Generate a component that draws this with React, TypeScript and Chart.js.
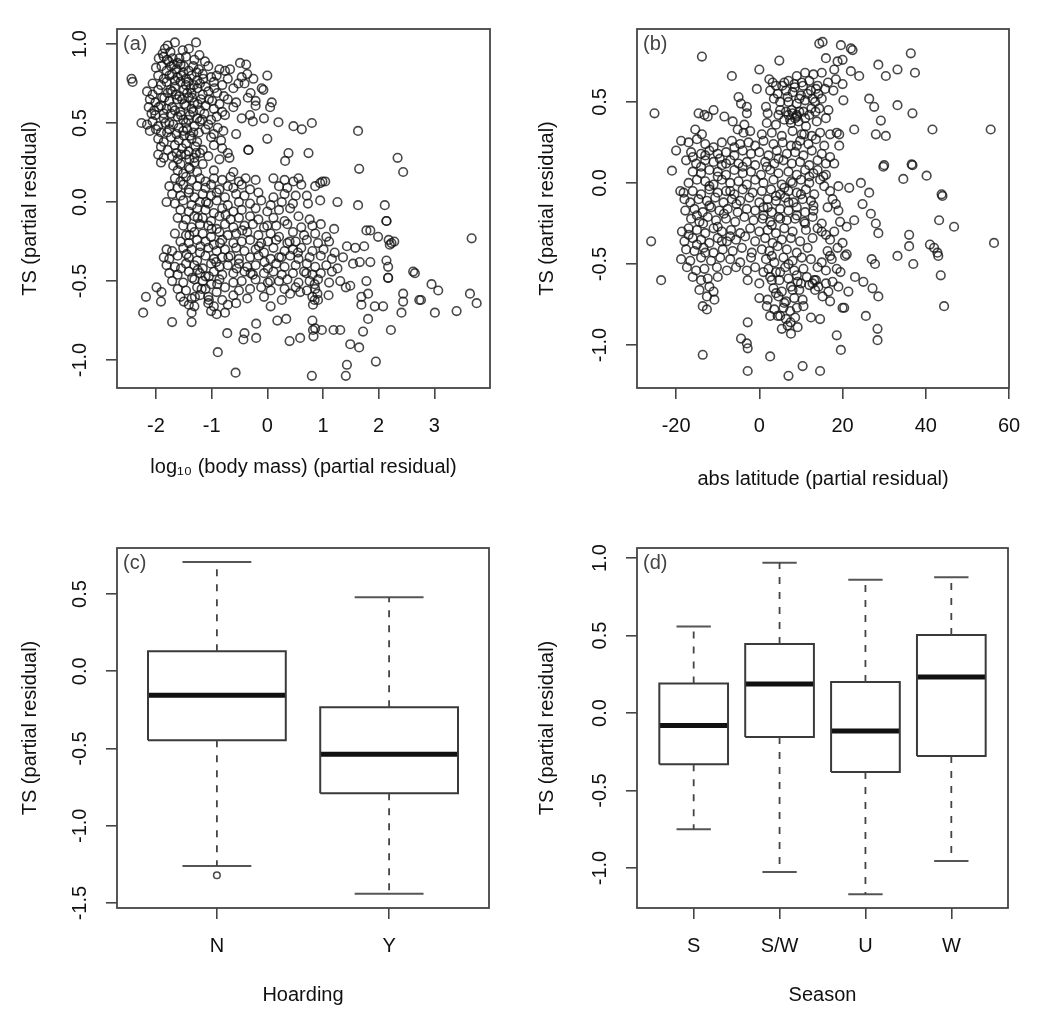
import React, { useEffect, useRef } from "react";
import { Chart, registerables } from "chart.js";

Chart.register(...registerables);

const FONT = "'Liberation Sans', Arial, Helvetica, sans-serif";
const TEXT = "#111111";
const FRAME = "#454545";

// ---------- Panel (a): log10 body mass vs TS ----------
const massTicks = [-2, -1, 0, 1, 2, 3];
const tsTicksA = [-1, -0.5, 0, 0.5, 1];
const massPoints: [number, number][] = [
  [-1.84,0.97],[-1.79,0.99],[-1.74,0.95],[-1.66,1.01],[-1.28,1.01],[-1.52,0.96],[-1.41,0.97],
  [-1.95,0.91],[-1.86,0.92],[-1.77,0.89],[-1.7,0.91],[-1.61,0.88],[-1.46,0.92],[-1.31,0.9],[-1.22,0.93],[-1.12,0.89],[-0.49,0.88],
  [-2.0,0.85],[-1.9,0.86],[-1.81,0.83],[-1.73,0.86],[-1.63,0.84],[-1.56,0.87],[-1.41,0.83],[-1.33,0.86],[-1.23,0.84],[-1.06,0.86],[-0.86,0.84],[-0.76,0.83],[-0.67,0.84],[-0.38,0.87],
  [-1.96,0.8],[-1.86,0.78],[-1.71,0.81],[-1.61,0.79],[-1.51,0.82],[-1.46,0.78],[-1.36,0.8],[-1.26,0.77],[-1.16,0.81],[-1.01,0.79],[-0.91,0.8],[-0.71,0.78],[-0.46,0.79],[-0.36,0.81],[-0.25,0.78],[0.0,0.8],
  [-2.06,0.75],[-1.91,0.74],[-1.81,0.76],[-1.66,0.73],[-1.56,0.76],[-1.46,0.74],[-1.38,0.72],[-1.21,0.75],[-1.11,0.73],[-0.96,0.76],[-0.81,0.74],[-0.61,0.72],[-0.41,0.75],[-0.52,0.75],
  [-2.16,0.7],[-2.06,0.68],[-1.96,0.71],[-1.79,0.69],[-1.71,0.7],[-1.58,0.67],[-1.5,0.71],[-1.36,0.69],[-1.26,0.72],[-1.16,0.68],[-1.06,0.7],[-0.9,0.69],[-0.78,0.67],[-0.3,0.69],[-0.1,0.72],[-0.07,0.71],
  [-2.11,0.65],[-2.01,0.63],[-1.89,0.66],[-1.76,0.64],[-1.62,0.65],[-1.49,0.62],[-1.41,0.66],[-1.31,0.63],[-1.19,0.65],[-0.99,0.64],[-0.86,0.62],[-0.71,0.65],[-0.56,0.63],[-0.35,0.66],[-0.21,0.64],
  [-2.13,0.6],[-2.03,0.58],[-1.91,0.61],[-1.81,0.59],[-1.71,0.6],[-1.56,0.57],[-1.46,0.61],[-1.36,0.59],[-1.21,0.58],[-1.11,0.61],[-0.96,0.59],[-0.81,0.57],[-0.61,0.6],[-0.21,0.61],[0.05,0.6],[0.08,0.63],
  [-2.01,0.55],[-1.86,0.53],[-1.73,0.56],[-1.61,0.54],[-1.51,0.52],[-1.39,0.55],[-1.26,0.53],[-1.13,0.56],[-1.01,0.52],[-0.91,0.54],[-0.76,0.55],[-0.46,0.53],[-0.31,0.55],[-0.06,0.53],
  [-2.26,0.5],[-2.16,0.49],[-2.06,0.51],[-1.96,0.48],[-1.83,0.5],[-1.69,0.49],[-1.59,0.47],[-1.46,0.5],[-1.31,0.48],[-1.21,0.51],[-1.06,0.49],[-0.89,0.47],[-0.26,0.51],[0.2,0.505],[0.47,0.48],[0.62,0.46],[0.8,0.5],
  [-2.11,0.45],[-1.91,0.44],[-1.76,0.46],[-1.63,0.43],[-1.51,0.45],[-1.39,0.42],[-1.23,0.44],[-1.11,0.46],[-0.96,0.43],[-0.79,0.45],[-0.56,0.43],
  [-1.96,0.4],[-1.86,0.38],[-1.73,0.41],[-1.59,0.39],[-1.46,0.37],[-1.36,0.4],[-1.26,0.38],[-1.01,0.41],[-0.83,0.39],[0.0,0.4],
  [-1.91,0.35],[-1.79,0.33],[-1.66,0.36],[-1.53,0.34],[-1.41,0.32],[-1.29,0.35],[-1.16,0.33],[-0.96,0.36],[-0.81,0.34],[-0.71,0.31],[-0.34,0.33],[0.38,0.31],[0.74,0.31],
  [-1.96,0.3],[-1.86,0.28],[-1.71,0.29],[-1.61,0.27],[-1.46,0.3],[-1.31,0.28],[-1.21,0.31],[-1.06,0.29],[-0.86,0.27],[-0.68,0.28],[0.32,0.26],
  [-1.91,0.25],[-1.69,0.23],[-1.56,0.24],[-1.41,0.22],[-1.31,0.25],[-1.16,0.24],
  [-1.61,0.2],[-1.51,0.18],[-1.39,0.21],[-1.26,0.19],[-0.96,0.2],[-0.61,0.19],
  [-1.88,0.94],[-1.8,0.9],[-1.68,0.87],[-1.58,0.91],[-1.5,0.86],[-1.76,0.8],[-1.66,0.77],[-1.55,0.8],[-1.42,0.76],[-1.32,0.74],
  [-1.74,0.71],[-1.64,0.68],[-1.53,0.65],[-1.44,0.69],[-1.85,0.66],[-1.95,0.6],[-1.86,0.56],[-1.76,0.5],[-1.66,0.58],[-1.55,0.55],
  [-1.42,0.52],[-1.33,0.57],[-1.25,0.62],[-1.17,0.52],[-1.5,0.42],[-1.44,0.46],[-1.33,0.44],[-1.28,0.31],[-1.4,0.27],[-1.55,0.3],
  [-1.63,0.31],[-1.35,0.66],[-1.05,0.65],[-1.15,0.78],[-0.95,0.72],[-1.27,0.82],[-2.08,0.56],[-2.0,0.46],[-1.8,0.44],
  [-1.66,0.15],[-1.56,0.13],[-1.46,0.16],[-1.36,0.14],[-1.21,0.15],[-1.11,0.13],[-0.96,0.15],[-0.81,0.14],[-0.66,0.16],[-0.51,0.13],[-0.39,0.15],[-0.21,0.14],[0.11,0.15],[0.31,0.14],[0.56,0.15],[0.99,0.13],[1.04,0.13],[0.95,0.12],[0.47,0.13],
  [-1.76,0.1],[-1.61,0.09],[-1.51,0.11],[-1.41,0.08],[-1.26,0.1],[-1.11,0.09],[-1.01,0.11],[-0.86,0.08],[-0.71,0.1],[-0.61,0.09],[-0.46,0.11],[-0.31,0.08],[0.21,0.1],[0.36,0.09],[0.61,0.11],[0.86,0.1],
  [-1.71,0.05],[-1.56,0.04],[-1.41,0.06],[-1.31,0.03],[-1.16,0.05],[-1.01,0.04],[-0.91,0.06],[-0.76,0.03],[-0.56,0.05],[-0.41,0.04],[-0.16,0.06],[0.11,0.03],[0.31,0.05],[0.51,0.04],[0.71,0.04],[0.73,-0.01],
  [-1.81,0.0],[-1.66,-0.01],[-1.51,0.01],[-1.36,-0.02],[-1.21,0.0],[-1.06,-0.01],[-0.91,0.01],[-0.71,-0.02],[-0.51,0.0],[-0.31,-0.01],[-0.11,0.01],[0.06,-0.02],[0.26,0.0],[0.46,-0.01],[0.95,0.01],[1.26,0.0],[1.63,-0.02],[2.11,-0.02],
  [-1.56,-0.05],[-1.41,-0.06],[-1.26,-0.04],[-1.11,-0.05],[-0.96,-0.07],[-0.81,-0.04],[-0.61,-0.06],[-0.46,-0.05],[-0.21,-0.04],[0.0,-0.06],[0.21,-0.05],[0.41,-0.04],
  [-1.61,-0.1],[-1.46,-0.11],[-1.31,-0.09],[-1.16,-0.1],[-1.01,-0.12],[-0.86,-0.09],[-0.66,-0.11],[-0.51,-0.1],[-0.31,-0.09],[-0.16,-0.11],[0.11,-0.1],[0.31,-0.12],[0.56,-0.09],[0.76,-0.11],[2.14,-0.12],
  [-1.51,-0.15],[-1.36,-0.16],[-1.21,-0.14],[-1.06,-0.15],[-0.91,-0.17],[-0.76,-0.14],[-0.61,-0.16],[-0.41,-0.15],[-0.26,-0.14],[-0.06,-0.16],[0.16,-0.15],[0.36,-0.14],[0.61,-0.16],[0.81,-0.15],[0.96,-0.14],[1.2,-0.17],[1.78,-0.18],
  [-1.66,-0.2],[-1.46,-0.21],[-1.31,-0.19],[-1.16,-0.2],[-1.01,-0.22],[-0.86,-0.19],[-0.71,-0.21],[-0.56,-0.2],[-0.36,-0.19],[-0.16,-0.21],[0.06,-0.2],[0.21,-0.22],[0.46,-0.19],[0.66,-0.21],[0.86,-0.2],[1.06,-0.22],[1.99,-0.22],[2.18,-0.24],
  [-1.56,-0.25],[-1.41,-0.26],[-1.26,-0.24],[-1.11,-0.25],[-0.96,-0.27],[-0.81,-0.24],[-0.61,-0.26],[-0.46,-0.25],[-0.31,-0.24],[-0.11,-0.26],[0.01,-0.25],[0.16,-0.24],[0.36,-0.26],[0.51,-0.25],[0.71,-0.24],[0.91,-0.26],[1.11,-0.25],[2.23,-0.26],[2.28,-0.25],
  [-1.81,-0.3],[-1.71,-0.31],[-1.51,-0.29],[-1.36,-0.3],[-1.21,-0.32],[-1.06,-0.29],[-0.91,-0.31],[-0.76,-0.3],[-0.56,-0.29],[-0.41,-0.31],[-0.21,-0.3],[-0.06,-0.32],[0.11,-0.29],[0.31,-0.31],[0.46,-0.3],[0.61,-0.29],[0.81,-0.31],[1.01,-0.3],[1.21,-0.32],[1.43,-0.28],[1.58,-0.29],[1.74,-0.28],
  [-1.86,-0.35],[-1.76,-0.36],[-1.61,-0.34],[-1.41,-0.35],[-1.26,-0.37],[-1.11,-0.34],[-0.96,-0.36],[-0.81,-0.35],[-0.66,-0.34],[-0.51,-0.36],[-0.31,-0.35],[-0.16,-0.34],[0.06,-0.36],[0.21,-0.35],[0.41,-0.34],[0.56,-0.36],[0.76,-0.35],[0.96,-0.34],[1.16,-0.36],[1.36,-0.35],[2.14,-0.37],
  [-1.81,-0.4],[-1.66,-0.41],[-1.46,-0.39],[-1.31,-0.4],[-1.16,-0.42],[-1.01,-0.39],[-0.86,-0.41],[-0.71,-0.4],[-0.51,-0.39],[-0.36,-0.41],[-0.21,-0.4],[0.01,-0.42],[0.16,-0.39],[0.31,-0.41],[0.51,-0.4],[0.71,-0.39],[0.86,-0.41],[1.06,-0.4],[1.26,-0.42],[1.54,-0.39],[1.66,-0.38],[1.85,-0.38],[2.17,-0.41],
  [-1.76,-0.45],[-1.61,-0.46],[-1.41,-0.44],[-1.21,-0.45],[-1.11,-0.47],[-0.96,-0.44],[-0.81,-0.46],[-0.61,-0.45],[-0.41,-0.44],[-0.26,-0.46],[-0.06,-0.45],[0.11,-0.44],[0.26,-0.46],[0.46,-0.45],[0.66,-0.44],[0.81,-0.46],[0.96,-0.45],[1.16,-0.44],[2.62,-0.44],[2.65,-0.45],
  [-1.71,-0.5],[-1.51,-0.51],[-1.31,-0.49],[-1.16,-0.5],[-1.01,-0.52],[-0.86,-0.49],[-0.61,-0.51],[-0.46,-0.5],[-0.21,-0.49],[0.01,-0.51],[0.21,-0.5],[0.36,-0.49],[0.56,-0.51],[0.76,-0.5],[0.91,-0.49],[1.11,-0.51],[1.31,-0.5],[1.78,-0.5],[2.17,-0.48],[2.95,-0.52],
  [-1.61,-0.55],[-1.46,-0.56],[-1.26,-0.54],[-1.11,-0.55],[-0.91,-0.57],[-0.76,-0.54],[-0.51,-0.56],[-0.31,-0.55],[-0.11,-0.54],[0.06,-0.56],[0.31,-0.55],[0.51,-0.54],[0.71,-0.56],[0.86,-0.55],[1.41,-0.54],[1.49,-0.53],[3.07,-0.56],
  [-1.56,-0.6],[-1.36,-0.61],[-1.21,-0.59],[-1.06,-0.6],[-0.81,-0.62],[-0.61,-0.59],[-0.36,-0.61],[-0.06,-0.6],[0.26,-0.62],[0.41,-0.58],[0.59,-0.57],[0.81,-0.6],[0.91,-0.62],[1.1,-0.59],[1.69,-0.6],[1.81,-0.58],[2.44,-0.58],[3.64,-0.58],
  [-1.41,-0.65],[-1.31,-0.66],[-1.06,-0.64],[-0.96,-0.66],[-0.71,-0.65],[-0.56,-0.64],[0.06,-0.66],[0.82,-0.65],[1.69,-0.65],[1.93,-0.66],[2.08,-0.66],[2.44,-0.63],[2.73,-0.62],[2.76,-0.62],[3.76,-0.64],
  [-1.36,-0.7],[-1.01,-0.69],[-0.91,-0.71],[-0.76,-0.7],
  [-1.35,-0.48],[-1.25,-0.43],[-1.05,-0.47],[-0.92,-0.38],[-1.2,-0.28],[-1.0,-0.17],[-0.85,-0.26],[-0.75,-0.08],[-1.18,-0.55],[-1.05,-0.62],
  [-0.9,-0.52],[-1.4,-0.21],[-1.45,-0.33],[-1.55,-0.42],[-1.25,-0.1],[-1.1,0.0],[-0.7,-0.35],[-0.55,-0.42],[-0.3,-0.45],[-0.05,-0.38],
  [0.05,-0.5],[0.25,-0.35],[0.4,-0.25],[0.55,-0.32],[0.7,-0.45],[0.85,-0.52],[-0.15,-0.28],[0.0,-0.15],[-0.45,-0.18],[-1.3,-0.6],
  [-1.5,-0.63],[0.9,-0.58],[0.85,-0.62],
  [-2.44,0.78],[-2.42,0.76],[1.63,0.45],[-0.34,0.33],[1.65,0.21],[2.34,0.28],[2.44,0.19],[3.67,-0.23],[3.4,-0.69],[3.01,-0.7],[2.41,-0.7],
  [2.22,-0.81],[1.95,-1.01],[1.81,-0.74],[1.72,-0.82],[1.65,-0.92],[1.49,-0.9],[1.43,-1.03],[1.41,-1.1],[0.8,-1.1],[-0.57,-1.08],[-0.89,-0.95],
  [-2.23,-0.7],[-2.18,-0.6],[-1.99,-0.54],[-1.9,-0.57],[-1.91,-0.63],[-1.71,-0.76],[-1.36,-0.76],[-0.72,-0.83],[-0.41,-0.83],[-0.43,-0.87],
  [-0.2,-0.77],[-0.2,-0.86],[0.18,-0.75],[0.34,-0.74],[0.4,-0.88],[0.59,-0.86],[0.81,-0.75],[0.82,-0.81],[0.83,-0.85],[0.86,-0.8],[0.98,-0.81],[1.19,-0.81],[1.31,-0.81],
  [2.14,-0.12],[2.17,-0.48],[1.85,-0.18],[2.2,-0.27]
];

// ---------- Panel (b): abs latitude vs TS ----------
const latTicks = [-20, 0, 20, 40, 60];
const tsTicksB = [-1, -0.5, 0, 0.5];
const latPoints: [number, number][] = [
  [14.4,0.86],[15.2,0.87],[19.6,0.85],[22,0.83],[22.4,0.82],[36.4,0.8],
  [-13.8,0.78],[4.8,0.755],[16,0.77],[18.8,0.75],[20,0.76],
  [0,0.7],[-6.6,0.66],[28.6,0.73],[33.2,0.7],[37.4,0.68],[30.4,0.66],[22,0.69],[24,0.66],[11,0.68],[13,0.67],[15,0.68],[18,0.7],[9,0.66],
  [2.4,0.64],[3.2,0.62],[7.0,0.63],[8.4,0.61],[10.2,0.62],[12,0.63],[14,0.6],[16.5,0.62],[18.4,0.64],[20,0.61],[5.5,0.6],
  [-0.6,0.58],[2.6,0.57],[4.4,0.55],[6.4,0.57],[8,0.56],[10,0.54],[12.4,0.57],[14.2,0.55],[15.8,0.58],[17.8,0.57],[20.2,0.51],[-5,0.53],
  [-4.4,0.49],[-3,0.47],[1.6,0.47],[5,0.5],[7,0.5],[9,0.49],[11,0.51],[13.4,0.5],[15,0.52],[26.4,0.52],[33.2,0.48],
  [-25.2,0.43],[-14.6,0.43],[-13.2,0.42],[-12.4,0.41],[-11,0.45],[-8.4,0.41],[-3,0.43],[2,0.43],[4.6,0.42],[6.4,0.44],[7.8,0.45],[9,0.42],[10.6,0.44],[12,0.42],[14.4,0.46],[27.6,0.47],[36.8,0.43],
  [7,0.42],[8,0.43],[8.6,0.4],[9.6,0.44],[7.4,0.39],[9,0.41],
  [5,0.45],[6,0.62],[8.5,0.59],[10.5,0.6],[11.6,0.55],[12.8,0.52],[13.6,0.58],[6.8,0.53],[9.6,0.52],[11,0.4],[12.5,0.46],[13.5,0.44],[4,0.6],[3.5,0.52],
  [-6.4,0.38],[-3.6,0.36],[1.8,0.37],[4,0.36],[6,0.39],[7.6,0.37],[9.4,0.38],[11.2,0.35],[13.8,0.38],[16,0.4],[29.2,0.385],[22.8,0.33],[19.2,0.3],
  [-15.4,0.33],[-13.8,0.3],[-5.2,0.33],[-3.8,0.31],[-2.2,0.32],[0.6,0.3],[3,0.31],[5.4,0.29],[8,0.32],[10.2,0.3],[12.6,0.29],[14.6,0.31],[18.6,0.31],[41.6,0.33],[55.6,0.33],[28,0.3],[30.4,0.29],
  [-18.8,0.26],[-17,0.25],[-15,0.27],[-13,0.24],[-9,0.25],[-6.6,0.26],[-4.6,0.24],[-2.6,0.25],[-1,0.23],[1,0.26],[3.4,0.24],[5.6,0.25],[7.6,0.23],[9.8,0.26],[11.8,0.24],[13.6,0.27],[15.6,0.23],[19.2,0.23],
  [-20,0.2],[-16.4,0.19],[-14,0.18],[-12,0.2],[-10,0.18],[-8,0.19],[-6,0.17],[-4,0.2],[-2,0.18],[0,0.19],[2.2,0.17],[4.2,0.2],[6.6,0.18],[8.6,0.19],[10.6,0.17],[12.6,0.2],[15,0.18],[17,0.16],
  [-17.6,0.14],[-15.2,0.12],[-13,0.14],[-11,0.13],[-9,0.11],[-7,0.14],[-5,0.12],[-3,0.13],[-1,0.11],[1.4,0.13],[3.6,0.12],[5.8,0.14],[7.8,0.12],[9.8,0.13],[12,0.11],[14,0.14],[16,0.12],[29.8,0.1],[30,0.11],[36.6,0.115],[36.8,0.11],
  [-21,0.076],[-16,0.07],[-14,0.06],[-12,0.08],[-10,0.07],[-8,0.05],[-6,0.08],[-4,0.06],[-2,0.07],[0.4,0.05],[2.6,0.08],[4.6,0.06],[7,0.07],[9,0.05],[11,0.08],[13,0.06],[15.4,0.04],[40.2,0.045],
  [-17,0.0],[-15,0.02],[-13,0.01],[-11,-0.01],[-9,0.02],[-7,0.0],[-5,0.01],[-3,-0.01],[-1,0.02],[1,0.0],[3.4,0.02],[5.4,-0.01],[7.6,0.01],[10,0.02],[12,0.0],[14.6,0.02],[15.6,-0.02],[24.4,0.0],[34.6,0.025],
  [-19,-0.05],[-18.2,-0.06],[-16,-0.05],[-14,-0.07],[-12,-0.04],[-10,-0.06],[-8,-0.05],[-6,-0.07],[-4,-0.04],[-1.6,-0.06],[0.6,-0.05],[2.8,-0.04],[5,-0.07],[7,-0.05],[9,-0.06],[11.2,-0.04],[13.2,-0.07],[21.6,-0.03],[26.4,-0.06],[43.8,-0.07],[44,-0.08],
  [-16.6,-0.12],[-14.6,-0.1],[-12.6,-0.11],[-10.6,-0.09],[-8.6,-0.12],[-6.6,-0.1],[-4.6,-0.11],[-2.4,-0.09],[0,-0.12],[2,-0.1],[4,-0.11],[6.2,-0.09],[8.2,-0.12],[10.4,-0.1],[12.4,-0.11],[17.6,-0.1],[18.4,-0.13],[24.8,-0.13],
  [-17.8,-0.17],[-15.6,-0.16],[-13.6,-0.18],[-11.6,-0.15],[-9.6,-0.17],[-7.6,-0.16],[-5.2,-0.18],[-3,-0.16],[-1,-0.17],[1,-0.15],[3,-0.18],[5,-0.16],[7,-0.17],[9,-0.15],[11,-0.18],[13,-0.17],[16.4,-0.15],[19,-0.17],[26.8,-0.19],
  [-16.4,-0.22],[-14.4,-0.24],[-12.4,-0.21],[-10.4,-0.23],[-8,-0.22],[-5.8,-0.24],[-3.6,-0.21],[-1.4,-0.23],[0.8,-0.22],[2.6,-0.24],[4.6,-0.21],[6.6,-0.23],[8.6,-0.22],[10.8,-0.24],[12.8,-0.21],[15,-0.25],[19.4,-0.24],[22.8,-0.23],[43.2,-0.23],[46.8,-0.27],[28,-0.25],
  [-18.6,-0.3],[-17,-0.28],[-15,-0.29],[-13,-0.31],[-11,-0.28],[-9,-0.3],[-6.8,-0.29],[-4.6,-0.31],[-2.2,-0.28],[0,-0.3],[2,-0.29],[4,-0.31],[6,-0.28],[8,-0.3],[11.2,-0.29],[15,-0.3],[16,-0.32],[21,-0.27],[28.6,-0.31],[36,-0.32],
  [-18,-0.36],[-16,-0.34],[-14,-0.35],[-12,-0.37],[-10,-0.34],[-7.8,-0.36],[-5.6,-0.35],[-3.4,-0.33],[-1,-0.36],[1.4,-0.34],[3.2,-0.37],[5.4,-0.35],[7.6,-0.34],[9.8,-0.36],[12.8,-0.34],[17,-0.35],[20,-0.37],[-26,-0.36],[56.4,-0.37],
  [-17.6,-0.41],[-15.6,-0.42],[-13.4,-0.4],[-11,-0.43],[-8.8,-0.41],[-6.4,-0.42],[-4.2,-0.4],[-1.8,-0.43],[0.6,-0.41],[2.4,-0.42],[4.4,-0.39],[6.6,-0.41],[9,-0.43],[11.6,-0.4],[16.4,-0.42],[18.8,-0.4],[21,-0.44],[36,-0.39],[41,-0.38],[42,-0.4],
  [-18.8,-0.47],[-16.6,-0.48],[-14,-0.46],[-11.6,-0.48],[-9.4,-0.46],[-7,-0.47],[-4.6,-0.49],[-2,-0.46],[1.6,-0.47],[3.6,-0.49],[5.8,-0.46],[8,-0.48],[10.2,-0.46],[12.4,-0.47],[15,-0.49],[17.4,-0.47],[20.6,-0.45],[27,-0.47],[33.2,-0.45],[43,-0.45],[42.8,-0.43],
  [-17.4,-0.52],[-15.2,-0.54],[-13.2,-0.53],[-10.2,-0.52],[-7.8,-0.54],[-5.6,-0.52],[-3,-0.54],[2.2,-0.53],[4,-0.55],[6.2,-0.52],[8.4,-0.54],[10.6,-0.53],[14,-0.52],[16,-0.54],[18.6,-0.53],[37,-0.5],[27.8,-0.5],
  [-16,-0.58],[-14,-0.6],[-12.4,-0.59],[-10,-0.58],[-2.8,-0.6],[2.6,-0.58],[4.8,-0.6],[7,-0.59],[9.2,-0.61],[11.4,-0.58],[13.2,-0.6],[17.6,-0.61],[23,-0.58],[25,-0.61],[43.6,-0.57],[-23.6,-0.6],
  [-14.4,-0.66],[-12,-0.64],[-11,-0.67],[3.4,-0.65],[5.4,-0.67],[7.6,-0.64],[9.6,-0.66],[12,-0.63],[13.4,-0.66],[16.6,-0.67],[19,-0.64],[27.2,-0.65],[21.4,-0.67],
  [-12.6,-0.7],[-10.8,-0.72],[0,-0.71],[2,-0.72],[4.6,-0.7],[6.4,-0.73],[8.4,-0.71],[10.4,-0.72],[15.2,-0.7],[28.6,-0.7],[17,-0.73],
  [-13.6,-0.76],[-12.6,-0.78],[1.8,-0.76],[3.6,-0.78],[5.8,-0.77],[7.4,-0.79],[10.6,-0.76],[20,-0.77],[20.4,-0.77],[44.4,-0.76],
  [4.4,-0.82],[6.4,-0.84],[8.6,-0.83],[12.4,-0.83],[14.6,-0.84],[25.6,-0.82],[-2.8,-0.86],[2.6,-0.82],
  [6.8,-0.88],[7.6,-0.93],[9.2,-0.89],[-4.4,-0.96],[-3,-0.99],[-2.8,-1.02],[18.6,-0.94],[28.4,-0.9],[28.4,-0.97],[5.4,-0.9],
  [-13.6,-1.06],[-2.8,-1.16],[2.6,-1.07],[7,-1.19],[10.4,-1.13],[14.6,-1.16],[19.6,-1.03],
  [-15,-0.2],[-13.5,-0.25],[-12,-0.14],[-10,-0.27],[-8.5,-0.19],[-7,-0.05],[-5.5,-0.13],[-4,0.1],[-6,0.22],[-8,0.12],
  [-10,0.04],[-12,-0.02],[-14,0.1],[-16,0.16],[-18,-0.1],[-17,-0.32],[-15,-0.38],[-13,-0.43],[-9,-0.36],[-7,-0.33],
  [-11,0.22],[-13,0.17],[-9.5,0.15],
  [1,-0.2],[3,-0.26],[5,-0.22],[7,-0.12],[9,-0.2],[11,-0.25],[13,-0.14],[14,-0.28],[2,-0.15],[4,-0.08],
  [6,-0.03],[8,0.0],[10,-0.07],[12,0.04],[14,0.08],[1.8,0.1],[4.6,0.15],[9,0.23],[10.8,0.3],
  [3,-0.45],[5,-0.55],[7,-0.5],[9,-0.57],[4,-0.68],[6,-0.74],[8,-0.66],[10,-0.62],[5,-0.82],[7.5,-0.86],
  [9,-0.77],[12.8,-0.62],[13.6,-0.6],[14.2,-0.64],[3,-0.6],[1,-0.55],[0,-0.62],[-1,-0.52],
  [16,0.05],[18,0.12],[17,-0.05],[19,-0.02],[18,-0.3],[17,-0.45],[19.5,-0.55],[16,-0.62],[17,0.3],[16.6,0.45]
];

// ---------- Panel (c): Hoarding boxplot ----------
const hoardCats = ["N", "Y"];
const hoardMin = [-1.26, -1.44];
const hoardQ1 = [-0.446, -0.789];
const hoardMed = [-0.155, -0.537];
const hoardQ3 = [0.13, -0.233];
const hoardMax = [0.707, 0.48];
const hoardOutliers: [number, number][] = [[1, -1.32]];
const tsTicksC = [-1.5, -1, -0.5, 0, 0.5];

// ---------- Panel (d): Season boxplot ----------
const seasonCats = ["S", "S/W", "U", "W"];
const seasonMin = [-0.75, -1.026, -1.17, -0.955];
const seasonQ1 = [-0.33, -0.155, -0.38, -0.277];
const seasonMed = [-0.08, 0.187, -0.116, 0.232];
const seasonQ3 = [0.19, 0.445, 0.2, 0.503];
const seasonMax = [0.558, 0.97, 0.86, 0.877];
const tsTicksD = [-1, -0.5, 0, 0.5, 1];

// ---------- helpers ----------
const BOX_HALF = 0.4;
const CAP_HALF = 0.2;

function pts(arr: [number, number][]) {
  return arr.map(([x, y]) => ({ x, y }));
}

function scatterSet(arr: [number, number][]) {
  return {
    data: pts(arr),
    showLine: false,
    pointStyle: "circle",
    pointRadius: 4.3,
    pointBorderWidth: 1.6,
    pointBorderColor: "rgba(20,20,20,0.78)",
    pointBackgroundColor: "rgba(0,0,0,0)",
  };
}

function lineSet(arr: [number, number][], color: string, width: number, dash: number[] = []) {
  return {
    data: pts(arr),
    showLine: true,
    borderColor: color,
    borderWidth: width,
    borderDash: dash,
    pointRadius: 0,
    tension: 0,
    fill: false,
  };
}

function boxSets(mins: number[], q1: number[], med: number[], q3: number[], maxs: number[], outliers: [number, number][]) {
  const ds: any[] = [];
  mins.forEach((_, i) => {
    const c = i + 1;
    ds.push(lineSet([[c, q3[i]], [c, maxs[i]]], "#444", 1.8, [7, 8]));
    ds.push(lineSet([[c, q1[i]], [c, mins[i]]], "#444", 1.8, [7, 8]));
    ds.push(lineSet([[c - CAP_HALF, maxs[i]], [c + CAP_HALF, maxs[i]]], "#555", 2));
    ds.push(lineSet([[c - CAP_HALF, mins[i]], [c + CAP_HALF, mins[i]]], "#555", 2));
    ds.push(lineSet([[c - BOX_HALF, q1[i]], [c + BOX_HALF, q1[i]], [c + BOX_HALF, q3[i]], [c - BOX_HALF, q3[i]], [c - BOX_HALF, q1[i]]], "#3a3a3a", 2));
    ds.push(lineSet([[c - BOX_HALF, med[i]], [c + BOX_HALF, med[i]]], "#111", 5));
  });
  if (outliers.length) {
    ds.push({ ...scatterSet(outliers), pointRadius: 3.3, pointBorderWidth: 1.5 });
  }
  return ds;
}

const framePlugin = {
  id: "frame",
  afterDraw(chart: any, _args: any, opts: any) {
    const { ctx, chartArea: a } = chart;
    ctx.save();
    ctx.strokeStyle = FRAME;
    ctx.lineWidth = 1.8;
    ctx.strokeRect(a.left, a.top, a.right - a.left, a.bottom - a.top);
    ctx.fillStyle = "#444";
    ctx.font = `20px ${FONT}`;
    ctx.textBaseline = "middle";
    ctx.textAlign = "left";
    ctx.fillText(opts.label || "", a.left + 6, a.top + 15);
    ctx.restore();
  },
};

interface PanelSpec {
  left: number; top: number; width: number; height: number;
  area: { left: number; top: number; right: number; bottom: number };
  xMin: number; xMax: number; yMin: number; yMax: number;
  xTicks: number[]; yTicks: number[];
  xLabel: (v: number) => string;
  xTitle: string; yTitle: string;
  xTitlePad: number; yTitlePad: number;
  label: string;
  datasets: any[];
}

function gridOpts() {
  return {
    display: true,
    drawOnChartArea: false,
    drawTicks: true,
    tickLength: 11,
    color: FRAME,
    lineWidth: 1.6,
  };
}

function makeConfig(p: PanelSpec): any {
  const font = { family: FONT, size: 20, lineHeight: 1.2 };
  return {
    type: "scatter",
    data: { datasets: p.datasets },
    plugins: [framePlugin],
    options: {
      responsive: false,
      animation: false,
      maintainAspectRatio: false,
      layout: {
        padding: {
          left: 0,
          top: p.area.top - p.top,
          right: p.left + p.width - p.area.right,
          bottom: 0,
        },
      },
      plugins: {
        legend: { display: false },
        tooltip: { enabled: false },
        frame: { label: p.label },
      },
      scales: {
        x: {
          type: "linear",
          position: "bottom",
          min: p.xMin,
          max: p.xMax,
          afterBuildTicks: (s: any) => { s.ticks = p.xTicks.map((v) => ({ value: v })); },
          afterFit: (s: any) => { s.height = p.top + p.height - p.area.bottom; },
          grid: gridOpts(),
          border: { display: false },
          ticks: {
            font, color: TEXT, padding: 15, autoSkip: false, minRotation: 0, maxRotation: 0,
            callback: (v: any) => p.xLabel(Number(v)),
          },
          title: { display: true, text: p.xTitle, font, color: TEXT, padding: { top: 0, bottom: p.xTitlePad } },
        },
        y: {
          type: "linear",
          position: "left",
          min: p.yMin,
          max: p.yMax,
          afterBuildTicks: (s: any) => { s.ticks = p.yTicks.map((v) => ({ value: v })); },
          afterFit: (s: any) => { s.width = p.area.left - p.left; },
          grid: gridOpts(),
          border: { display: false },
          ticks: {
            font, color: TEXT, padding: 7.8, autoSkip: false, minRotation: 90, maxRotation: 90, crossAlign: "center",
            callback: (v: any) => Number(v).toFixed(1),
          },
          title: { display: true, text: p.yTitle, font, color: TEXT, padding: { top: p.yTitlePad, bottom: 0 } },
        },
      },
    },
  };
}

const panels: PanelSpec[] = [
  {
    left: 0, top: 0, width: 520, height: 505,
    area: { left: 117, top: 29, right: 490, bottom: 388 },
    xMin: -2.7, xMax: 4.0, yMin: -1.177, yMax: 1.095,
    xTicks: massTicks, yTicks: tsTicksA,
    xLabel: (v) => String(v),
    xTitle: "log\u2081\u2080 (body mass) (partial residual)",
    yTitle: "TS (partial residual)",
    xTitlePad: 26, yTitlePad: 18, label: "(a)",
    datasets: [scatterSet(massPoints)],
  },
  {
    left: 520, top: 0, width: 522, height: 505,
    area: { left: 637, top: 29, right: 1009, bottom: 388 },
    xMin: -29.4, xMax: 60, yMin: -1.265, yMax: 0.95,
    xTicks: latTicks, yTicks: tsTicksB,
    xLabel: (v) => String(v),
    xTitle: "abs latitude (partial residual)",
    yTitle: "TS (partial residual)",
    xTitlePad: 14, yTitlePad: 15, label: "(b)",
    datasets: [scatterSet(latPoints)],
  },
  {
    left: 0, top: 505, width: 520, height: 525,
    area: { left: 117, top: 548, right: 489, bottom: 908 },
    xMin: 0.42, xMax: 2.58, yMin: -1.532, yMax: 0.798,
    xTicks: hoardCats.map((_, i) => i + 1), yTicks: tsTicksC,
    xLabel: (v) => hoardCats[Math.round(v) - 1] ?? "",
    xTitle: "Hoarding",
    yTitle: "TS (partial residual)",
    xTitlePad: 23, yTitlePad: 18, label: "(c)",
    datasets: boxSets(hoardMin, hoardQ1, hoardMed, hoardQ3, hoardMax, hoardOutliers),
  },
  {
    left: 520, top: 505, width: 522, height: 525,
    area: { left: 637, top: 548, right: 1008, bottom: 908 },
    xMin: 0.34, xMax: 4.66, yMin: -1.258, yMax: 1.065,
    xTicks: seasonCats.map((_, i) => i + 1), yTicks: tsTicksD,
    xLabel: (v) => seasonCats[Math.round(v) - 1] ?? "",
    xTitle: "Season",
    yTitle: "TS (partial residual)",
    xTitlePad: 23, yTitlePad: 15, label: "(d)",
    datasets: boxSets(seasonMin, seasonQ1, seasonMed, seasonQ3, seasonMax, []),
  },
];

function Panel({ spec }: { spec: PanelSpec }) {
  const ref = useRef<HTMLCanvasElement | null>(null);
  useEffect(() => {
    if (!ref.current) return;
    const chart = new Chart(ref.current, makeConfig(spec));
    return () => chart.destroy();
  }, [spec]);
  return (
    <canvas
      ref={ref}
      width={spec.width}
      height={spec.height}
      style={{ position: "absolute", left: spec.left, top: spec.top, width: spec.width, height: spec.height }}
    />
  );
}

export default function App() {
  return (
    <div style={{ position: "absolute", left: 0, top: 0, width: 1042, height: 1030, background: "#ffffff", overflow: "hidden" }}>
      {panels.map((p, i) => (
        <Panel key={i} spec={p} />
      ))}
    </div>
  );
}
